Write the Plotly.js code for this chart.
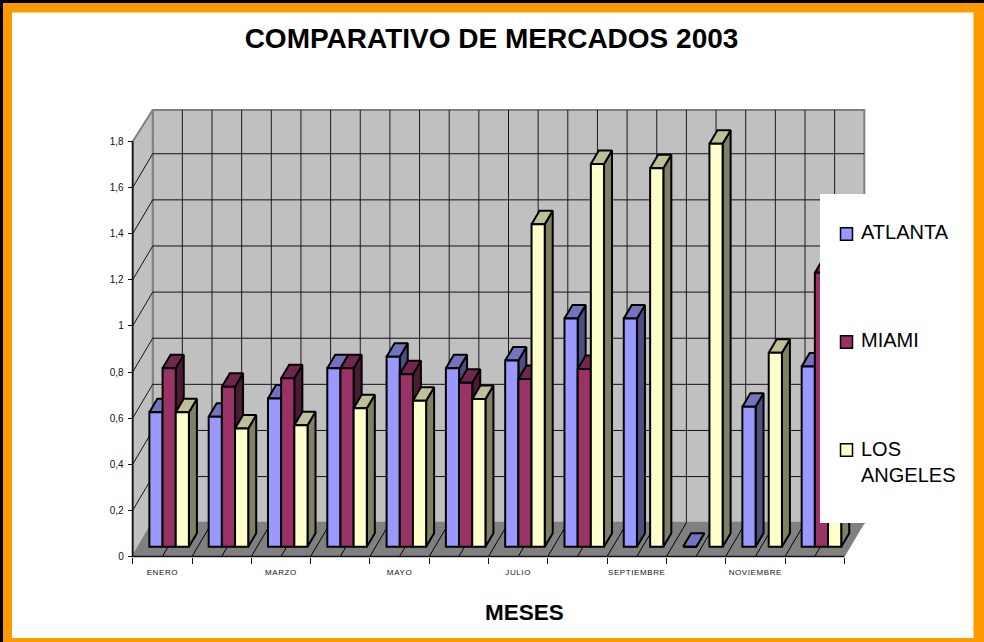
<!DOCTYPE html>
<html>
<head>
<meta charset="utf-8">
<script src="https://cdn.plot.ly/plotly-3.0.1.min.js"></script>
<style>
html,body{margin:0;padding:0;background:#FF9900;overflow:hidden}
#chart{width:984px;height:642px}
.x2tick text{letter-spacing:.6px}
</style>
</head>
<body>
<div id="chart"></div>
<script>
// ---- data ----
var MONTHS = ['ENERO','FEBRERO','MARZO','ABRIL','MAYO','JUNIO','JULIO','AGOSTO','SEPTIEMBRE','OCTUBRE','NOVIEMBRE','DICIEMBRE'];
var ATLANTA = [0.583,0.564,0.643,0.774,0.824,0.774,0.807,0.990,0.990,0,0.607,0.781];
var MIAMI = [0.774,0.694,0.730,0.774,0.748,0.711,0.727,0.771,null,null,null,1.188];
var LOS_ANGELES = [0.583,0.513,0.527,0.600,0.633,0.640,1.398,1.660,1.641,1.747,0.841,0.900];
var SERIES_NAMES = ['ATLANTA','MIAMI','LOS ANGELES'];
var Y_TICKS = [0,0.2,0.4,0.6,0.8,1,1.2,1.4,1.6,1.8];
var Y_LABELS = ['0','0,2','0,4','0,6','0,8','1','1,2','1,4','1,6','1,8'];
var FRONT = ['#9999FF','#993366','#FFFFCC'];
var TOP = ['#7373BF','#73264D','#BFBF99'];
var SIDE = ['#4D4D80','#4D1A33','#808066'];

// ---- page geometry (pixels) ----
var W = 984, H = 642;
var X0 = 132.7, CAT = 59.3, Y0 = 556.5, UNIT = 230.6;
var L = 126, R = 872, T = 100, B = 562;
function px(p){return p/W;}
function py(p){return 1-p/H;}
var xRange = [(L-X0)/CAT-0.5,(R-X0)/CAT-0.5];
var yRange = [(Y0-B)/UNIT,(Y0-T)/UNIT];

// depth projection in data units
var WALL_DX = 20/CAT, WALL_DY = 33.8/UNIT;
var BAR_SHIFT_X = 6.8/CAT, BAR_SHIFT_Y = 9.8/UNIT;
var BAR_DX = 8/CAT, BAR_DY = 13.5/UNIT;
var BAR_W = 1/4.5;
var LEFT = -0.5, RIGHT = 11.5, YTOP = 1.8, WALLTOP = (Y0-110)/UNIT;
var OUTLINE = 2;

var traces = [];
function poly(xs,ys,fill,line,width,ax){
  traces.push({type:'scatter',mode:'lines',x:xs,y:ys,fill:fill?'toself':'none',fillcolor:fill||undefined,
    line:{color:line,width:width,simplify:false},hoverinfo:'skip',showlegend:false,xaxis:ax[0],yaxis:ax[1]});
}
var base = ['x','y'];

// walls and floor
poly([LEFT+WALL_DX,RIGHT+WALL_DX,RIGHT+WALL_DX,LEFT+WALL_DX,LEFT+WALL_DX],[WALL_DY,WALL_DY,WALLTOP,WALLTOP,WALL_DY],'#C0C0C0','#808080',2,base);
poly([LEFT,LEFT+WALL_DX,LEFT+WALL_DX,LEFT,LEFT],[0,WALL_DY,WALLTOP,YTOP,0],'#C0C0C0','#808080',2,base);
poly([LEFT,RIGHT,RIGHT+WALL_DX,LEFT+WALL_DX,LEFT],[0,0,WALL_DY,WALL_DY,0],'#808080','#808080',1,base);

// gridlines
var hx=[],hy=[];
Y_TICKS.slice(1,-1).forEach(function(g){
  hx.push(LEFT,LEFT+WALL_DX,RIGHT+WALL_DX,null);
  hy.push(g,g+WALL_DY,g+WALL_DY,null);
});
poly(hx,hy,null,'#111111',1,base);
var vx=[],vy=[],fx=[],fy=[];
for(var k=1;k<24;k++){
  var xb=LEFT+k/2;
  vx.push(xb+WALL_DX,xb+WALL_DX,null); vy.push(WALL_DY,WALLTOP,null);
  fx.push(xb,xb+WALL_DX,null); fy.push(0,WALL_DY,null);
}
poly(vx,vy,null,'#1a1a1a',1,base);
poly(fx,fy,null,'#000000',1,base);
// front axis lines
poly([LEFT,LEFT,RIGHT],[YTOP,0,0],null,'#111111',1.6,base);

// bars: each series lives in its own overlaid subplot so that a bar's front
// covers the depth faces of its left neighbour
var ALL = [ATLANTA,MIAMI,LOS_ANGELES];
var axes = [['x','y'],['x2','y2'],['x3','y3'],['x4','y4']];
ALL.forEach(function(vals,s){
  var sx=[],sy=[],tx=[],ty=[];
  var b=BAR_SHIFT_Y;
  vals.forEach(function(v,i){
    if(v===null) return;
    var x0=i+BAR_SHIFT_X+(s-1.5)*BAR_W, x1=x0+BAR_W, t=b+v;
    sx.push(x1,x1+BAR_DX,x1+BAR_DX,x1,x1,null); sy.push(b,b+BAR_DY,t+BAR_DY,t,b,null);
    tx.push(x0,x0+BAR_DX,x1+BAR_DX,x1,x0,null); ty.push(t,t+BAR_DY,t+BAR_DY,t,t,null);
  });
  poly(sx,sy,SIDE[s],'#000',OUTLINE,axes[s]);
  poly(tx,ty,TOP[s],'#000',OUTLINE,axes[s]);
  traces.push({type:'bar',name:SERIES_NAMES[s],
    x:vals.map(function(v,i){return i+BAR_SHIFT_X;}),y:vals,
    base:BAR_SHIFT_Y,width:BAR_W,offset:(s-1.5)*BAR_W,
    marker:{color:FRONT[s],line:{color:'#000',width:OUTLINE}},
    hoverinfo:'x+y',showlegend:false,xaxis:axes[s+1][0],yaxis:axes[s+1][1]});
});

// frame and legend
var shapes = [
  {type:'rect',xref:'paper',yref:'paper',layer:'below',x0:0,x1:1,y0:py(0),y1:py(3),fillcolor:'#000',line:{width:0}},
  {type:'rect',xref:'paper',yref:'paper',layer:'below',x0:0,x1:px(3),y0:0,y1:1,fillcolor:'#000',line:{width:0}},
  {type:'rect',xref:'paper',yref:'paper',layer:'below',x0:px(12),x1:px(973.5),y0:py(638),y1:py(12.5),fillcolor:'#FFF',line:{width:0}},
  {type:'rect',xref:'paper',yref:'paper',layer:'above',x0:px(820),x1:px(900),y0:py(523),y1:py(194),fillcolor:'#FFF',line:{width:0}}
];
var legendY = [234,342,450];
var annotations = [{xref:'paper',yref:'paper',x:px(524.5),y:py(612),xanchor:'center',yanchor:'middle',showarrow:false,
  text:'<b>MESES</b>',font:{family:'Liberation Sans, Arial, sans-serif',size:22.5,color:'#000'}}];
SERIES_NAMES.forEach(function(n,s){
  shapes.push({type:'rect',xref:'paper',yref:'paper',layer:'above',x0:px(840.5),x1:px(852.5),
    y0:py(legendY[s]+6.2),y1:py(legendY[s]-6.2),fillcolor:FRONT[s],line:{color:'#000',width:1.5}});
  var two = n.indexOf(' ')>0;
  annotations.push({xref:'paper',yref:'paper',x:px(859),y:py(two?legendY[s]+12:legendY[s]-2),xanchor:'left',yanchor:'middle',align:'left',showarrow:false,
    text:n.replace(' ','<br>'),font:{family:'Liberation Sans, Arial, sans-serif',size:20,color:'#000'}});
});

var hidden = function(n,over){
  var a={domain:over=='x'?[px(L),px(R)]:[py(B),py(T)],range:over=='x'?xRange:yRange,overlaying:over,visible:false,fixedrange:true};
  return a;
};
var boundaries = []; for(var b=0;b<=12;b++) boundaries.push(b-0.5);
var font = {family:'Liberation Sans, Arial, sans-serif'};

var layout = {
  width:W,height:H,autosize:false,
  margin:{l:0,r:0,t:0,b:0,pad:0},
  paper_bgcolor:'#FF9900',plot_bgcolor:'rgba(0,0,0,0)',
  showlegend:false,barmode:'overlay',
  title:{text:'<b>COMPARATIVO DE MERCADOS 2003</b>',x:491.5/W,xanchor:'center',xref:'paper',y:py(38),yref:'paper',yanchor:'middle',
    font:{family:font.family,size:28,color:'#000'}},
  xaxis:{domain:[px(L),px(R)],range:xRange,anchor:'free',position:py(Y0),showgrid:false,zeroline:false,showline:false,
    tickmode:'array',tickvals:boundaries,ticktext:boundaries.map(function(){return '';}),ticks:'outside',ticklen:6,tickwidth:1,tickcolor:'#111',fixedrange:true},
  yaxis:{domain:[py(B),py(T)],range:yRange,anchor:'free',position:px(X0),showgrid:false,zeroline:false,showline:false,
    tickmode:'array',tickvals:Y_TICKS,ticktext:Y_LABELS,ticks:'outside',ticklen:5,tickwidth:1,tickcolor:'#111',ticklabelstandoff:2,
    tickfont:{family:font.family,size:10,color:'#111'},fixedrange:true},
  xaxis2:{domain:[px(L),px(R)],range:xRange,overlaying:'x',anchor:'free',position:py(Y0),showgrid:false,zeroline:false,showline:false,
    tickmode:'array',tickvals:MONTHS.map(function(m,i){return i;}),
    ticktext:MONTHS.map(function(m,i){return i%2==0?m:'';}),
    ticks:'',ticklabelstandoff:9,tickangle:0,tickfont:{family:font.family,size:8,color:'#111'},fixedrange:true},
  yaxis2:hidden(2,'y'),
  xaxis3:hidden(3,'x'),yaxis3:hidden(3,'y'),
  xaxis4:hidden(4,'x'),yaxis4:hidden(4,'y'),
  shapes:shapes,annotations:annotations
};
Plotly.newPlot('chart',traces,layout,{displayModeBar:false,staticPlot:true});
</script>
</body>
</html>
